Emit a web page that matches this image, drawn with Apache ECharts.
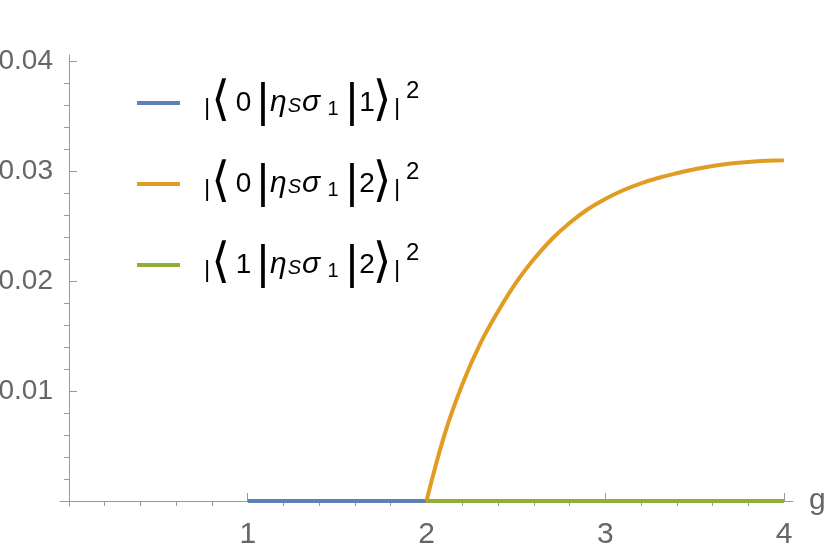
<!DOCTYPE html>
<html>
<head>
<meta charset="utf-8">
<script src="https://cdn.jsdelivr.net/npm/echarts@6/dist/echarts.min.js"></script>
<style>
  html, body { margin: 0; padding: 0; background: #fff; }
  #main { width: 830px; height: 551px; }
</style>
</head>
<body>
<div id="main"></div>
<script>
// transition probabilities |<m| eta_S sigma_1 |n>|^2 against g
var seriesNames = ['|⟨0|ηSσ1|1⟩|²', '|⟨0|ηSσ1|2⟩|²', '|⟨1|ηSσ1|2⟩|²'];
var braStates = ['0', '0', '1'];
var ketStates = ['1', '2', '2'];
var seriesColors = ['#5e81b5', '#e19c24', '#8fb032'];

var blueG = [1, 2];
var blueP = [0, 0];

var orangeG = [2, 2.1, 2.2, 2.3, 2.4, 2.5, 2.6, 2.7, 2.8, 2.9, 3.0,
               3.1, 3.2, 3.3, 3.4, 3.5, 3.6, 3.7, 3.8, 3.9, 4.0];
var orangeP = [0, 0.0060, 0.0106, 0.0143, 0.01725, 0.01985, 0.0220,
               0.02383, 0.02531, 0.02654, 0.0275, 0.02829, 0.02892, 0.02943, 0.02984,
               0.0302, 0.0305, 0.03072, 0.03087, 0.03097, 0.03102];

var greenG = [2, 4];
var greenP = [0, 0];

var xMajorTicks = [1, 2, 3, 4];
var xMinorTicks = [0.2, 0.4, 0.6, 0.8, 1.2, 1.4, 1.6, 1.8, 2.2, 2.4, 2.6, 2.8,
                   3.2, 3.4, 3.6, 3.8];
var yMajorTicks = [0.01, 0.02, 0.03, 0.04];
var yMinorTicks = [0.002, 0.004, 0.006, 0.008, 0.012, 0.014, 0.016, 0.018,
                   0.022, 0.024, 0.026, 0.028, 0.032, 0.034, 0.036, 0.038];

function pairs(xs, ys) {
  var out = [];
  for (var i = 0; i < xs.length; i++) out.push([xs[i], ys[i]]);
  return out;
}

function legendText(name) {
  var k = seriesNames.indexOf(name);
  return '{pad| }{sb||}{lb|⟨}{bra|' + braStates[k] + '}{bar||}{eta|η}{subS|S}{sig|σ}{sub1|1}' +
         '{bar2||}{ket|' + ketStates[k] + '}{rb|⟩}{sb2||}{sup|2}';
}

var axisGray = '#9a9a9a';
var labelGray = '#666666';
var xMin = -0.05, xMax = 4.05, yMin = -0.00045, yMax = 0.0406;

function xAxisDef(ticks, len, showLabel) {
  return {
    type: 'value', min: xMin, max: xMax,
    name: showLabel ? 'g' : '',
    nameLocation: 'end', nameGap: 16,
    nameTextStyle: { fontFamily: 'Liberation Sans', fontSize: 30, color: labelGray, verticalAlign: 'middle', padding: [6, 0, 0, 0] },
    axisLine: { show: showLabel, onZero: true, onZeroAxisIndex: 0, lineStyle: { color: axisGray, width: 1 } },
    axisTick: { show: true, inside: true, length: len, customValues: ticks, lineStyle: { color: axisGray } },
    axisLabel: { show: showLabel, customValues: ticks, margin: 14, fontFamily: 'Liberation Sans', fontSize: 30, color: labelGray },
    splitLine: { show: false }
  };
}

function yAxisDef(ticks, len, showLabel) {
  return {
    type: 'value', min: yMin, max: yMax,
    axisLine: { show: showLabel, onZero: true, onZeroAxisIndex: 0, lineStyle: { color: axisGray, width: 1 } },
    axisTick: { show: true, inside: true, length: len, customValues: ticks, lineStyle: { color: axisGray } },
    axisLabel: { show: showLabel, customValues: ticks, margin: 7, fontFamily: 'Liberation Sans', fontSize: 28, color: labelGray,
                 formatter: function (v) { return v.toFixed(2); } },
    splitLine: { show: false }
  };
}

var txt = 'Liberation Sans';
var chart = echarts.init(document.getElementById('main'));
chart.setOption({
  animation: false,
  backgroundColor: '#fff',
  grid: { left: 60, right: 37, top: 55, bottom: 45, containLabel: false, outerBoundsMode: 'none' },
  legend: {
    orient: 'vertical', left: 137, top: 79, padding: 0,
    icon: 'rect', itemWidth: 43, itemHeight: 4, itemGap: 33,
    data: seriesNames,
    formatter: legendText,
    textStyle: {
      color: '#000', fontFamily: txt, fontSize: 28,
      rich: {
        pad:  { width: 19, fontSize: 20 },
        sb:   { width: 6, fontSize: 24, fontFamily: txt, color: '#000', padding: [10, 0, 0, 0] },
        lb:   { width: 21, align: 'center', fontSize: 48, fontFamily: 'DejaVu Sans', color: '#000' },
        bra:  { width: 25, align: 'center', fontSize: 28, fontFamily: txt, color: '#000' },
        bar:  { width: 14, align: 'center', fontSize: 46, fontFamily: txt, color: '#000' },
        eta:  { fontSize: 30, fontFamily: txt, fontStyle: 'italic', color: '#000' },
        subS: { fontSize: 20, fontFamily: txt, fontStyle: 'italic', color: '#000', padding: [7, 0, 0, 1] },
        sig:  { fontSize: 30, fontFamily: txt, fontStyle: 'italic', color: '#000', padding: [0, 0, 0, 1] },
        sub1: { width: 26, fontSize: 20, fontFamily: txt, color: '#000', padding: [12, 0, 0, 0] },
        bar2: { width: 12, align: 'center', fontSize: 46, fontFamily: txt, color: '#000' },
        ket:  { width: 18, align: 'center', fontSize: 28, fontFamily: txt, color: '#000' },
        rb:   { width: 12, align: 'center', fontSize: 48, fontFamily: 'DejaVu Sans', color: '#000' },
        sb2:  { width: 18, align: 'center', fontSize: 24, fontFamily: txt, color: '#000', padding: [10, 0, 0, 0] },
        sup:  { fontSize: 24, fontFamily: txt, color: '#000', lineHeight: 22, verticalAlign: 'top' }
      }
    }
  },
  xAxis: [xAxisDef(xMajorTicks, 8, true), xAxisDef(xMinorTicks, 5, false)],
  yAxis: [yAxisDef(yMajorTicks, 8, true), yAxisDef(yMinorTicks, 5, false)],
  series: [
    { name: seriesNames[0], type: 'line', data: pairs(blueG, blueP), symbol: 'none',
      lineStyle: { color: seriesColors[0], width: 4 }, itemStyle: { color: seriesColors[0] } },
    { name: seriesNames[1], type: 'line', data: pairs(orangeG, orangeP), symbol: 'none',
      smooth: 0.4,
      lineStyle: { color: seriesColors[1], width: 4 }, itemStyle: { color: seriesColors[1] } },
    { name: seriesNames[2], type: 'line', data: pairs(greenG, greenP), symbol: 'none',
      lineStyle: { color: seriesColors[2], width: 4 }, itemStyle: { color: seriesColors[2] } }
  ]
});
</script>
</body>
</html>
